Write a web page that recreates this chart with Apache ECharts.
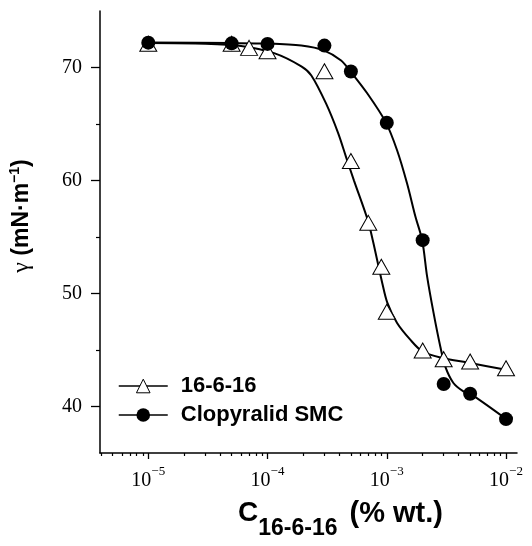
<!DOCTYPE html>
<html><head><meta charset="utf-8">
<script src="https://cdn.jsdelivr.net/npm/echarts@6/dist/echarts.min.js"></script>
<style>html,body{margin:0;padding:0;background:#fff}#c{width:532px;height:546px}</style>
</head><body><div id="c"></div>
<script>
// measured points
const concTri = [1e-5, 5e-5, 7e-5, 1e-4, 3e-4, 5e-4, 7e-4, 9e-4, 1e-3, 2e-3, 3e-3, 5e-3, 1e-2];
const gammaTri = [72.1, 72.1, 71.74, 71.44, 69.67, 61.73, 56.26, 52.37, 48.4, 44.96, 44.2, 43.99, 43.4];
const concCirc = [1e-5, 5e-5, 1e-4, 3e-4, 5e-4, 1e-3, 2e-3, 3e-3, 5e-3, 1e-2];
const gammaCirc = [72.2, 72.14, 72.09, 71.94, 69.65, 65.12, 54.73, 42.0, 41.14, 38.9];
// fitted curves
const fitTriX = [1e-5, 3e-5, 6e-5, 1.15e-4, 1.92e-4, 2.33e-4, 3.1e-4, 3.91e-4, 4.55e-4, 5.31e-4, 6.93e-4, 7.64e-4, 9.18e-4, 1.01e-3, 1.22e-3, 1.58e-3, 1.98e-3, 2.81e-3, 5e-3, 1e-2];
const fitTriY = [72.16, 72.1, 71.9, 71.25, 70.1, 69.3, 66.8, 64.2, 62.1, 60.0, 56.5, 54.7, 50.9, 49.2, 47.4, 45.9, 44.9, 44.35, 43.86, 43.26];
const fitCircX = [1e-5, 5e-5, 1e-4, 1.92e-4, 2.99e-4, 4.14e-4, 5.01e-4, 6.9e-4, 9.8e-4, 1.22e-3, 1.48e-3, 1.74e-3, 1.98e-3, 2.18e-3, 2.47e-3, 2.81e-3, 3.09e-3, 3.62e-3, 4.39e-3, 5e-3, 1e-2];
const fitCircY = [72.21, 72.16, 72.12, 71.94, 71.5, 70.62, 69.6, 67.68, 65.17, 62.68, 59.74, 56.8, 54.74, 51.5, 48.27, 45.32, 43.56, 42.09, 41.35, 41.15, 38.91];
// axis ticks
const xMajorTicks = [1e-5, 1e-4, 1e-3, 1e-2];
const xMinorTicks = [4e-6, 5e-6, 6e-6, 7e-6, 8e-6, 9e-6,
  2e-5, 3e-5, 4e-5, 5e-5, 6e-5, 7e-5, 8e-5, 9e-5,
  2e-4, 3e-4, 4e-4, 5e-4, 6e-4, 7e-4, 8e-4, 9e-4,
  2e-3, 3e-3, 4e-3, 5e-3, 6e-3, 7e-3, 8e-3, 9e-3];
const yMajorTicks = [40, 50, 60, 70];
const yMinorTicks = [45, 55, 65];
const seriesNames = ['16-6-16', 'Clopyralid SMC'];

const X_MIN = 3.936e-6, X_MAX = 1.236e-2, Y_MIN = 35.9, Y_MAX = 75;
const SANS = 'Liberation Sans', SERIF = 'Liberation Serif';

const zip = (a, b) => a.map((v, i) => [v, b[i]]);

const chart = echarts.init(document.getElementById('c'), null, {renderer: 'canvas'});
chart.setOption({
  animation: false,
  backgroundColor: '#fff',
  grid: {left: 97, right: 15, top: 11, bottom: 93, containLabel: false},
  xAxis: [{
    type: 'log', min: X_MIN, max: X_MAX, position: 'bottom',
    axisLine: {show: true, lineStyle: {color: '#000', width: 1.5}},
    axisTick: {show: true, customValues: xMajorTicks, length: 6, lineStyle: {color: '#000', width: 1.3}},
    axisLabel: {
      show: true, customValues: xMajorTicks, margin: 12,
      formatter: function (v) {
        const e = Math.round(Math.log10(v));
        return '{b|10}{s|\u2212' + Math.abs(e) + '}';
      },
      rich: {
        b: {fontFamily: SERIF, fontSize: 20, color: '#000', lineHeight: 32},
        s: {fontFamily: SERIF, fontSize: 13, color: '#000', verticalAlign: 'top'}
      }
    },
    splitLine: {show: false},
    name: '{c|C}{sub|16-6-16}{t|(% wt.)}',
    nameLocation: 'middle', nameGap: 46,
    nameTextStyle: {
      padding: [0, 0, 0, 64],
      rich: {
        c: {fontFamily: SANS, fontWeight: 'bold', fontSize: 28, color: '#000', verticalAlign: 'top'},
        sub: {fontFamily: SANS, fontWeight: 'bold', fontSize: 23, color: '#000', verticalAlign: 'top', padding: [18, 0, 0, 0]},
        t: {fontFamily: SANS, fontWeight: 'bold', fontSize: 29, color: '#000', verticalAlign: 'top', padding: [0, 0, 0, 12]}
      }
    }
  }, {
    type: 'log', min: X_MIN, max: X_MAX, position: 'bottom', offset: 0,
    axisLine: {show: false},
    axisTick: {show: true, customValues: xMinorTicks, length: 3, lineStyle: {color: '#000', width: 1.2}},
    axisLabel: {show: false},
    splitLine: {show: false}
  }],
  yAxis: [{
    type: 'value', min: Y_MIN, max: Y_MAX, position: 'left',
    axisLine: {show: true, lineStyle: {color: '#000', width: 1.5}},
    axisTick: {show: true, customValues: yMajorTicks, length: 9, lineStyle: {color: '#000', width: 1.3}},
    axisLabel: {show: true, customValues: yMajorTicks, margin: 18, fontFamily: SERIF, fontSize: 20, color: '#000'},
    splitLine: {show: false},
    name: '{g|\u03b3}{t| (mN\u00b7m}{s|\u22121}{t|)}',
    nameLocation: 'middle', nameRotate: 90, nameGap: 64,
    nameTextStyle: {
      padding: [0, 0, 0, 32],
      rich: {
        g: {fontFamily: SERIF, fontSize: 24, color: '#000', lineHeight: 28},
        t: {fontFamily: SANS, fontWeight: 'bold', fontSize: 23, color: '#000', lineHeight: 28},
        s: {fontFamily: SANS, fontWeight: 'bold', fontSize: 14, color: '#000', lineHeight: 14, verticalAlign: 'top'}
      }
    }
  }, {
    type: 'value', min: Y_MIN, max: Y_MAX, position: 'left', offset: 0,
    axisLine: {show: false},
    axisTick: {show: true, customValues: yMinorTicks, length: 4, lineStyle: {color: '#000', width: 1.2}},
    axisLabel: {show: false},
    splitLine: {show: false}
  }],
  legend: {
    orient: 'vertical', left: 118, top: 375, padding: 0,
    itemWidth: 49, itemHeight: 17, itemGap: 7, selectedMode: false,
    textStyle: {fontFamily: SANS, fontWeight: 'bold', fontSize: 22, color: '#000', padding: [0, 0, 0, 8]},
    lineStyle: {color: '#000', width: 1.5, opacity: 1},
    data: [
      {name: seriesNames[0], itemStyle: {color: '#fff', borderColor: '#000', borderWidth: 1, opacity: 1}},
      {name: seriesNames[1], itemStyle: {color: '#000', borderWidth: 0, opacity: 1}}
    ]
  },
  series: [{
    name: 'fit-tri', type: 'line', xAxisIndex: 0, yAxisIndex: 0,
    data: zip(fitTriX, fitTriY), showSymbol: false, symbol: 'none', smooth: 0.3,
    lineStyle: {color: '#000', width: 2}, silent: true, z: 2
  }, {
    name: 'fit-circ', type: 'line', xAxisIndex: 0, yAxisIndex: 0,
    data: zip(fitCircX, fitCircY), showSymbol: false, symbol: 'none', smooth: 0.3,
    lineStyle: {color: '#000', width: 2}, silent: true, z: 2
  }, {
    name: seriesNames[0], type: 'line', xAxisIndex: 0, yAxisIndex: 0,
    data: zip(concTri, gammaTri), symbol: 'triangle', symbolSize: [17, 15], showAllSymbol: true,
    itemStyle: {color: '#fff', borderColor: '#000', borderWidth: 1},
    lineStyle: {opacity: 0}, z: 3
  }, {
    name: seriesNames[1], type: 'line', xAxisIndex: 0, yAxisIndex: 0,
    data: zip(concCirc, gammaCirc), symbol: 'circle', symbolSize: 14, showAllSymbol: true,
    itemStyle: {color: '#000'},
    lineStyle: {opacity: 0}, z: 4
  }]
});
</script>
</body></html>
